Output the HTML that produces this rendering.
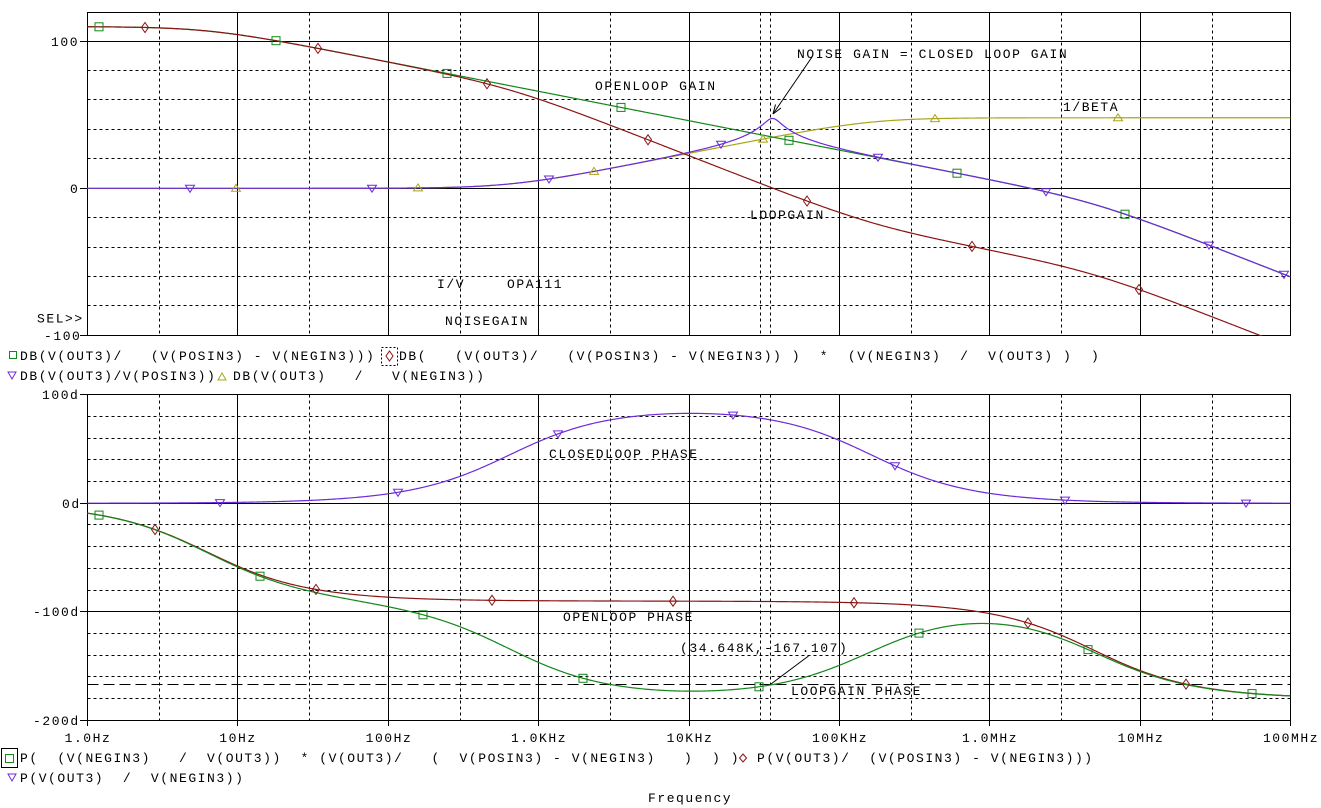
<!DOCTYPE html>
<html><head><meta charset="utf-8"><style>
html,body{margin:0;padding:0;background:#fff;}
svg{display:block;}
text{font-family:"Liberation Mono","DejaVu Sans Mono",monospace;font-size:13px;letter-spacing:1.55px;fill:#000;white-space:pre;}
</style></head><body>
<svg id="s" width="1321" height="808" viewBox="0 0 1321 808" xmlns="http://www.w3.org/2000/svg">
<defs>
<clipPath id="ct"><rect x="87" y="12" width="1204" height="324"/></clipPath>
<clipPath id="cb"><rect x="87" y="394" width="1204" height="327"/></clipPath>
</defs>
<rect width="1321" height="808" fill="#fff"/>
<g stroke="#000" stroke-width="1" shape-rendering="crispEdges" fill="none">
<!-- TOP PLOT -->
<rect x="87.5" y="12.5" width="1203" height="323"/>
<g stroke-dasharray="3,3">
<line x1="87.5" y1="70.5" x2="1290.5" y2="70.5"/>
<line x1="87.5" y1="99.5" x2="1290.5" y2="99.5"/>
<line x1="87.5" y1="129.5" x2="1290.5" y2="129.5"/>
<line x1="87.5" y1="158.5" x2="1290.5" y2="158.5"/>
<line x1="87.5" y1="217.5" x2="1290.5" y2="217.5"/>
<line x1="87.5" y1="247.5" x2="1290.5" y2="247.5"/>
<line x1="87.5" y1="276.5" x2="1290.5" y2="276.5"/>
<line x1="87.5" y1="305.5" x2="1290.5" y2="305.5"/>
<line x1="159.5" y1="12.5" x2="159.5" y2="335.5"/>
<line x1="309.5" y1="12.5" x2="309.5" y2="335.5"/>
<line x1="460.5" y1="12.5" x2="460.5" y2="335.5"/>
<line x1="610.5" y1="12.5" x2="610.5" y2="335.5"/>
<line x1="760.5" y1="12.5" x2="760.5" y2="335.5"/>
<line x1="911.5" y1="12.5" x2="911.5" y2="335.5"/>
<line x1="1061.5" y1="12.5" x2="1061.5" y2="335.5"/>
<line x1="1212.5" y1="12.5" x2="1212.5" y2="335.5"/>
<line x1="770.5" y1="12.5" x2="770.5" y2="335.5"/>
</g>
<line x1="80" y1="41.5" x2="1290.5" y2="41.5"/>
<line x1="80" y1="188.5" x2="1290.5" y2="188.5"/>
<line x1="80" y1="335.5" x2="87.5" y2="335.5"/>
<line x1="237.5" y1="12.5" x2="237.5" y2="335.5"/>
<line x1="388.5" y1="12.5" x2="388.5" y2="335.5"/>
<line x1="538.5" y1="12.5" x2="538.5" y2="335.5"/>
<line x1="689.5" y1="12.5" x2="689.5" y2="335.5"/>
<line x1="839.5" y1="12.5" x2="839.5" y2="335.5"/>
<line x1="989.5" y1="12.5" x2="989.5" y2="335.5"/>
<line x1="1140.5" y1="12.5" x2="1140.5" y2="335.5"/>

<!-- BOTTOM PLOT -->
<rect x="87.5" y="394.5" width="1203" height="326"/>
<g stroke-dasharray="3,3">
<line x1="87.5" y1="416.5" x2="1290.5" y2="416.5"/>
<line x1="87.5" y1="438.5" x2="1290.5" y2="438.5"/>
<line x1="87.5" y1="459.5" x2="1290.5" y2="459.5"/>
<line x1="87.5" y1="481.5" x2="1290.5" y2="481.5"/>
<line x1="87.5" y1="524.5" x2="1290.5" y2="524.5"/>
<line x1="87.5" y1="546.5" x2="1290.5" y2="546.5"/>
<line x1="87.5" y1="568.5" x2="1290.5" y2="568.5"/>
<line x1="87.5" y1="590.5" x2="1290.5" y2="590.5"/>
<line x1="87.5" y1="633.5" x2="1290.5" y2="633.5"/>
<line x1="87.5" y1="655.5" x2="1290.5" y2="655.5"/>
<line x1="87.5" y1="676.5" x2="1290.5" y2="676.5"/>
<line x1="87.5" y1="698.5" x2="1290.5" y2="698.5"/>
<line x1="159.5" y1="394.5" x2="159.5" y2="720.5"/>
<line x1="309.5" y1="394.5" x2="309.5" y2="720.5"/>
<line x1="460.5" y1="394.5" x2="460.5" y2="720.5"/>
<line x1="610.5" y1="394.5" x2="610.5" y2="720.5"/>
<line x1="760.5" y1="394.5" x2="760.5" y2="720.5"/>
<line x1="911.5" y1="394.5" x2="911.5" y2="720.5"/>
<line x1="1061.5" y1="394.5" x2="1061.5" y2="720.5"/>
<line x1="1212.5" y1="394.5" x2="1212.5" y2="720.5"/>
<line x1="770.5" y1="394.5" x2="770.5" y2="720.5"/>
</g>
<line x1="87.5" y1="684.5" x2="1290.5" y2="684.5" stroke-dasharray="11,5"/>
<line x1="80" y1="394.5" x2="87.5" y2="394.5"/>
<line x1="80" y1="503.5" x2="1290.5" y2="503.5"/>
<line x1="80" y1="611.5" x2="1290.5" y2="611.5"/>
<line x1="80" y1="720.5" x2="87.5" y2="720.5"/>
<line x1="237.5" y1="394.5" x2="237.5" y2="726"/>
<line x1="388.5" y1="394.5" x2="388.5" y2="726"/>
<line x1="538.5" y1="394.5" x2="538.5" y2="726"/>
<line x1="689.5" y1="394.5" x2="689.5" y2="726"/>
<line x1="839.5" y1="394.5" x2="839.5" y2="726"/>
<line x1="989.5" y1="394.5" x2="989.5" y2="726"/>
<line x1="1140.5" y1="394.5" x2="1140.5" y2="726"/>
<line x1="87.5" y1="720.5" x2="87.5" y2="726"/>
<line x1="1290.5" y1="720.5" x2="1290.5" y2="726"/>
</g>

<g id="curves"></g>

<!-- annotations -->
<g stroke="#000" stroke-width="1" fill="none">
<line x1="812" y1="57" x2="773" y2="114"/>
<line x1="773" y1="114" x2="781" y2="108"/>
<line x1="773" y1="114" x2="775.5" y2="104.5"/>
<line x1="808.5" y1="656" x2="771" y2="684"/>
<rect x="381.5" y="347.5" width="16" height="18" stroke-dasharray="2,2" shape-rendering="crispEdges"/>
<rect x="1.5" y="748.5" width="16" height="19" shape-rendering="crispEdges"/>
</g>

<!-- axis labels -->
<text x="51" y="46">100</text>
<text x="70" y="193">0</text>
<text x="44" y="340">-100</text>
<text x="37" y="322.5">SEL&gt;&gt;</text>
<text x="42" y="399">100d</text>
<text x="62" y="508">0d</text>
<text x="33" y="616">-100d</text>
<text x="33" y="725">-200d</text>

<g text-anchor="middle">
<text x="88" y="742">1.0Hz</text>
<text x="238" y="742">10Hz</text>
<text x="389" y="742">100Hz</text>
<text x="539" y="742">1.0KHz</text>
<text x="690" y="742">10KHz</text>
<text x="840" y="742">100KHz</text>
<text x="990" y="742">1.0MHz</text>
<text x="1141" y="742">10MHz</text>
<text x="1291" y="742">100MHz</text>
</g>

<!-- plot labels -->
<text x="797" y="58">NOISE GAIN = CLOSED LOOP GAIN</text>
<text x="595" y="90">OPENLOOP GAIN</text>
<text x="1063" y="111">1/BETA</text>
<text x="750" y="219">LOOPGAIN</text>
<text x="437" y="288">I/V</text>
<text x="507" y="288">OPA111</text>
<text x="445" y="325">NOISEGAIN</text>
<text x="549" y="458">CLOSEDLOOP PHASE</text>
<text x="563" y="621">OPENLOOP PHASE</text>
<text x="680" y="652">(34.648K,-167.107)</text>
<text x="791" y="695">LOOPGAIN PHASE</text>

<!-- legends -->
<text x="20" y="360" xml:space="preserve">DB(V(OUT3)/   (V(POSIN3) - V(NEGIN3)))</text>
<text x="399" y="360" xml:space="preserve">DB(   (V(OUT3)/   (V(POSIN3) - V(NEGIN3)) )  *  (V(NEGIN3)  /  V(OUT3) )  )</text>
<text x="20" y="380" xml:space="preserve">DB(V(OUT3)/V(POSIN3))</text>
<text x="233" y="380" xml:space="preserve">DB(V(OUT3)   /   V(NEGIN3))</text>
<text x="20" y="762" xml:space="preserve">P(  (V(NEGIN3)   /  V(OUT3))  * (V(OUT3)/   (  V(POSIN3) - V(NEGIN3)   )  ) )</text>
<text x="757" y="762" xml:space="preserve">P(V(OUT3)/  (V(POSIN3) - V(NEGIN3)))</text>
<text x="20" y="782" xml:space="preserve">P(V(OUT3)  /  V(NEGIN3))</text>
<text x="648" y="802">Frequency</text>

<!-- legend symbols -->
<g fill="none" stroke-width="1">
<rect x="9.5" y="351.5" width="7" height="7" stroke="#14861a"/>
<polygon points="389.5,351 393,356 389.5,361 386,356" stroke="#8a1414"/>
<polygon points="8,372 16,372 12,379" stroke="#6c2bd9"/>
<polygon points="218,380 226,380 222,373" stroke="#a9a51a"/>
<rect x="5.5" y="754.5" width="8" height="8" stroke="#14861a"/>
<polygon points="743,754 746.5,758 743,762 739.5,758" stroke="#8a1414"/>
<polygon points="8,774 16,774 12,781" stroke="#6c2bd9"/>
</g>
</svg>
<script>
(function(){
var NS='http://www.w3.org/2000/svg';
var A0=316228,p1=6.3,p2=4.9e6,fz=647,fpb=162000,D=180/Math.PI;
function FX(x){return Math.pow(10,(x-87.3)/150.4);}
function YT(d){return 188.3-1.47*d;}
function YB(d){return 503.3-1.0867*d;}
function cdiv(a,b){var d=b[0]*b[0]+b[1]*b[1];return [(a[0]*b[0]+a[1]*b[1])/d,(a[1]*b[0]-a[0]*b[1])/d];}
function cmul(a,b){return [a[0]*b[0]-a[1]*b[1],a[0]*b[1]+a[1]*b[0]];}
function db(a){return 20*Math.log10(Math.sqrt(a[0]*a[0]+a[1]*a[1]));}
function Af(f){return cdiv([A0,0],cmul([1,f/p1],[1,f/p2]));}
function IBf(f){return cdiv([1,f/fz],[1,f/fpb]);}
function phA(f){return -Math.atan(f/p1)*D-Math.atan(f/p2)*D;}
function phIB(f){return (Math.atan(f/fz)-Math.atan(f/fpb))*D;}
var fn={
 tg:function(f){return YT(db(Af(f)));},
 tr:function(f){return YT(db(Af(f))-db(IBf(f)));},
 tp:function(f){var a=Af(f),l=cdiv(a,IBf(f));return YT(db(cdiv(a,[1+l[0],l[1]])));},
 ty:function(f){return YT(db(IBf(f)));},
 bg:function(f){return YB(phA(f)-phIB(f));},
 br:function(f){return YB(phA(f));},
 bp:function(f){return YB(phIB(f));}
};
var G='#14861a',R='#8a1414',P='#6c2bd9',Y='#a9a51a';
var g=document.getElementById('curves');
function el(n,attrs,parent){var e=document.createElementNS(NS,n);for(var k in attrs)e.setAttribute(k,attrs[k]);(parent||g).appendChild(e);return e;}
var gt=el('g',{'clip-path':'url(#ct)'}),gb=el('g',{'clip-path':'url(#cb)'});
function curve(key,color,parent){
 var d='';for(var i=0;i<=800;i++){var x=87.3+i*(1203/800);var y=fn[key](FX(x));d+=(i?'L':'M')+x.toFixed(2)+' '+y.toFixed(2);}
 el('path',{d:d,stroke:color,'stroke-width':'1.2',fill:'none'},parent);
}
function marker(type,x,y,color,parent){
 var a={fill:'none',stroke:color,'stroke-width':'1'};
 if(type==='s'){a.x=(x-4).toFixed(1);a.y=(y-4).toFixed(1);a.width=8;a.height=8;el('rect',a,parent);return;}
 var pts;
 if(type==='d')pts=[[x,y-5],[x+3.5,y],[x,y+5],[x-3.5,y]];
 else if(type==='v')pts=[[x-4.5,y-3],[x+4.5,y-3],[x,y+4]];
 else pts=[[x-4.5,y+3],[x+4.5,y+3],[x,y-4]];
 a.points=pts.map(function(p){return p[0].toFixed(1)+','+p[1].toFixed(1);}).join(' ');
 el('polygon',a,parent);
}
function marks(key,type,color,xs,parent){xs.forEach(function(x){var y=fn[key](FX(x));marker(type,x,y,color,parent);});}
curve('ty',Y,gt);curve('tg',G,gt);curve('tr',R,gt);curve('tp',P,gt);
marks('tg','s',G,[99,276,447,621,789,957,1125],gt);
marks('tr','d',R,[145,318,487,648,807,972,1139],gt);
marks('tp','v',P,[190,372,549,721,878,1046,1209,1284],gt);
marks('ty','u',Y,[236,418,594,763,935,1118],gt);
curve('bp',P,gb);curve('br',R,gb);curve('bg',G,gb);
marks('bg','s',G,[99,260,423,583,759,919,1088,1252],gb);
marks('br','d',R,[155,316,492,673,854,1028,1186],gb);
marks('bp','v',P,[220,398,558,733,895,1065,1246],gb);
})();
</script>
</body></html>
